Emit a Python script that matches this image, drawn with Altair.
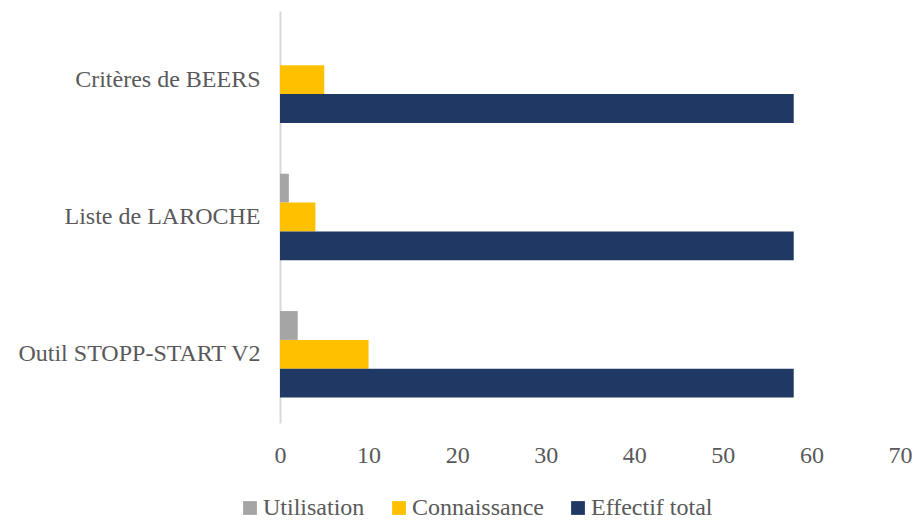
import altair as alt
import pandas as pd

categories = ["Critères de BEERS", "Liste de LAROCHE", "Outil STOPP-START V2"]
series = ["Utilisation", "Connaissance", "Effectif total"]
utilisation = [0, 1, 2]
connaissance = [5, 4, 10]
effectif_total = [58, 58, 58]
colors = ["#A5A5A5", "#FFC000", "#203864"]
x_ticks = [0, 10, 20, 30, 40, 50, 60, 70]

rows = []
for i, c in enumerate(categories):
    for s, vals in zip(series, [utilisation, connaissance, effectif_total]):
        rows.append({"cat": c, "serie": s, "val": vals[i]})
df = pd.DataFrame(rows)

FONT = "Liberation Serif"
TXT = "#595959"
FS = 24

chart = alt.Chart(df).mark_bar().encode(
    y=alt.Y("cat:N", sort=categories, title=None,
            scale=alt.Scale(paddingInner=0.37, paddingOuter=0.185),
            axis=alt.Axis(ticks=False, domainColor="#D9D9D9", domainWidth=2,
                          labelFont=FONT, labelFontSize=FS, labelColor=TXT,
                          labelPadding=20, labelLimit=400, grid=False)),
    yOffset=alt.YOffset("serie:N", sort=series,
                        scale=alt.Scale(paddingInner=0, paddingOuter=0)),
    x=alt.X("val:Q", title=None,
            scale=alt.Scale(domain=[0, 70], nice=False),
            axis=alt.Axis(values=x_ticks, grid=False, domain=False, ticks=False,
                          labelFlush=False,
                          labelFont=FONT, labelFontSize=FS, labelColor=TXT,
                          labelPadding=20)),
    color=alt.Color("serie:N", sort=series,
                    scale=alt.Scale(domain=series, range=colors),
                    legend=alt.Legend(title=None, orient="none", direction="horizontal",
                                      legendX=-42, legendY=485,
                                      symbolType="square", symbolSize=190,
                                      symbolStrokeWidth=0,
                                      labelFont=FONT, labelFontSize=FS, labelColor=TXT,
                                      labelOffset=1, columnPadding=22,
                                      labelLimit=300)),
).properties(
    width=620, height=412,
    autosize=alt.AutoSizeParams(type="none"),
    padding={"left": 272, "top": 3, "right": 13, "bottom": 100},
).configure_view(stroke=None)

chart.save("out.html", embed_options={"renderer": "svg", "actions": False})
